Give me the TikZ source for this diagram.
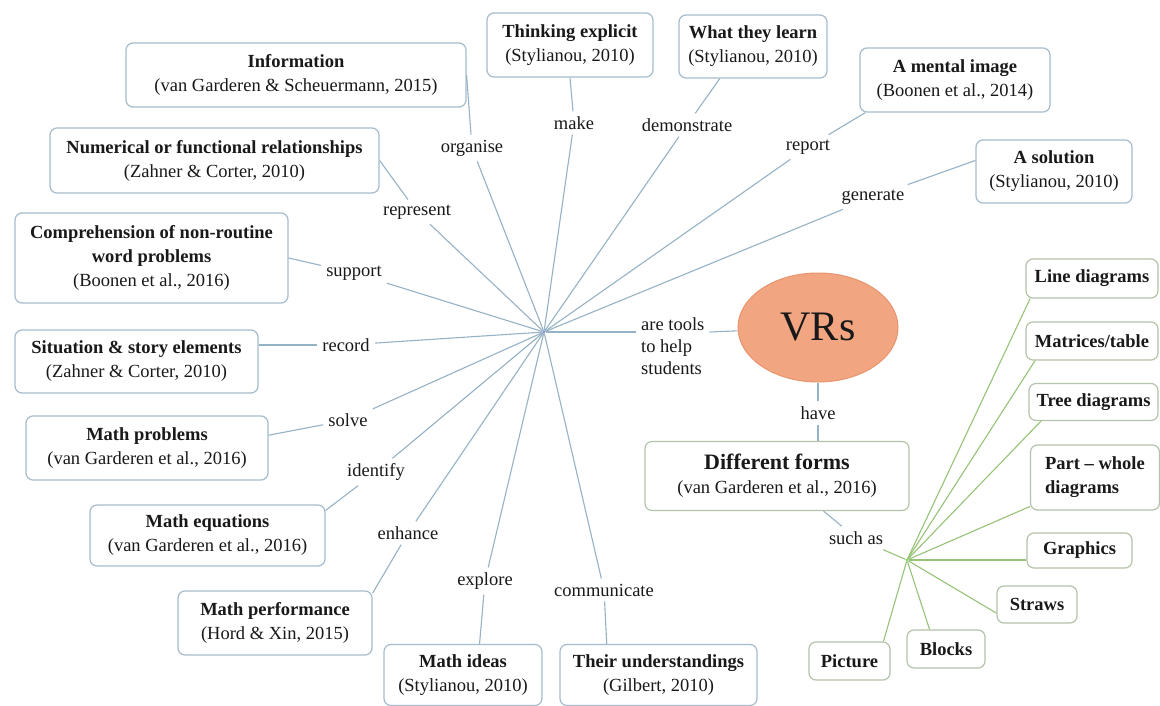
\documentclass[tikz,border=0pt]{standalone}
\usepackage{fontspec}
\setmainfont{Liberation Serif}
\usetikzlibrary{shapes.geometric}
\definecolor{txt}{RGB}{25,25,25}
\definecolor{bline}{RGB}{150,178,198}
\definecolor{bborder}{RGB}{165,188,204}
\definecolor{gline}{RGB}{150,195,120}
\definecolor{gborder}{RGB}{180,195,170}
\definecolor{vrsfill}{RGB}{241,165,128}
\definecolor{vrsdraw}{RGB}{232,148,110}
\begin{document}
\begin{tikzpicture}[x=1pt,y=-1pt,
  every node/.style={text=txt, font=\fontsize{18.5}{24}\selectfont},
  bbox/.style={draw=bborder, line width=1.2pt, rounded corners=7pt, align=center, inner sep=0pt},
  gbox/.style={draw=gborder, line width=1.2pt, rounded corners=7pt, align=center, inner sep=0pt, font=\fontsize{18.5}{24}\selectfont\bfseries},
  lbl/.style={inner sep=5pt},
  bcon/.style={draw=bline, line width=1.1pt},
  gcon/.style={draw=gline, line width=1.1pt},
]
\fill[white] (0,0) rectangle (1160,706);
\useasboundingbox (0,0) rectangle (1160,706);

% ---- hubs
\node[circle, fill=bline!70!blue, inner sep=1pt] (hub) at (544,332) {};
\node[circle, fill=gline!70!green, inner sep=1pt] (gh) at (907,560) {};

% ---- central ellipse
\node[ellipse, draw=vrsdraw, fill=vrsfill, line width=1pt, minimum width=160pt, minimum height=109pt, inner sep=0pt, font=\fontsize{42}{42}\selectfont] (vrs) at (818,327.5) {VRs};

% ---- blue boxes
\node[bbox, minimum width=340pt, minimum height=64pt] (info) at (296,75) {\textbf{Information}\\(van Garderen \& Scheuermann, 2015)};
\node[bbox, minimum width=329pt, minimum height=65pt] (numer) at (214.5,160.5) {\textbf{Numerical or functional relationships}\\(Zahner \& Corter, 2010)};
\node[bbox, minimum width=273pt, minimum height=90pt] (compr) at (151.5,258) {\textbf{Comprehension of non-routine}\\\textbf{word problems}\\(Boonen et al., 2016)};
\node[bbox, minimum width=243pt, minimum height=63pt] (situ) at (136.5,361.5) {\textbf{Situation \& story elements}\\(Zahner \& Corter, 2010)};
\node[bbox, minimum width=242pt, minimum height=64pt] (mprob) at (147,448) {\textbf{Math problems}\\(van Garderen et al., 2016)};
\node[bbox, minimum width=235pt, minimum height=61pt] (meq) at (207.5,535.5) {\textbf{Math equations}\\(van Garderen et al., 2016)};
\node[bbox, minimum width=194pt, minimum height=64pt] (mperf) at (275,623) {\textbf{Math performance}\\(Hord \& Xin, 2015)};
\node[bbox, minimum width=158pt, minimum height=61pt] (mideas) at (463,675) {\textbf{Math ideas}\\(Stylianou, 2010)};
\node[bbox, minimum width=197pt, minimum height=61pt] (theirund) at (658.5,675) {\textbf{Their understandings}\\(Gilbert, 2010)};
\node[bbox, minimum width=166pt, minimum height=64pt] (think) at (570,45) {\textbf{Thinking explicit}\\(Stylianou, 2010)};
\node[bbox, minimum width=148pt, minimum height=63pt] (what) at (753,46.5) {\textbf{What they learn}\\(Stylianou, 2010)};
\node[bbox, minimum width=190pt, minimum height=64pt] (mental) at (955,80) {\textbf{A mental image}\\(Boonen et al., 2014)};
\node[bbox, minimum width=156pt, minimum height=63pt] (solution) at (1054,171.5) {\textbf{A solution}\\(Stylianou, 2010)};

% ---- green boxes
\node[draw=gborder, line width=1.2pt, rounded corners=7pt, align=center, inner sep=0pt, minimum width=264pt, minimum height=69pt] (diff) at (777,476) {{\fontsize{22}{24}\selectfont\bfseries Different forms}\\(van Garderen et al., 2016)};
\node[gbox, minimum width=132pt, minimum height=39pt] (ld) at (1092,278.5) {Line diagrams};
\node[gbox, minimum width=132pt, minimum height=38pt] (mt) at (1092,341) {Matrices/table};
\node[gbox, minimum width=129pt, minimum height=37pt] (td) at (1093.5,402) {Tree diagrams};
\node[gbox, minimum width=129pt, minimum height=65pt, align=left] (pw) at (1095,477.5) {Part -- whole\\diagrams};
\node[gbox, minimum width=105pt, minimum height=35pt] (gr) at (1079.5,550.5) {Graphics};
\node[gbox, minimum width=80pt, minimum height=37pt] (st) at (1037,604.5) {Straws};
\node[gbox, minimum width=78pt, minimum height=38pt] (blk) at (946,649) {Blocks};
\node[gbox, minimum width=81pt, minimum height=38pt] (pic) at (849.5,661) {Picture};

% ---- linking labels
\node[lbl] (org) at (472,148) {organise};
\node[lbl] (make) at (574,123) {make};
\node[lbl] (demo) at (687,125) {demonstrate};
\node[lbl] (rep) at (808,147) {report};
\node[lbl] (gen) at (873,197) {generate};
\node[lbl] (repr) at (417,212) {represent};
\node[lbl] (sup) at (354,273) {support};
\node[lbl] (rec) at (346,345) {record};
\node[lbl] (solve) at (348,420) {solve};
\node[lbl] (ident) at (376,472) {identify};
\node[lbl] (enh) at (408,533) {enhance};
\node[lbl] (expl) at (485,581) {explore};
\node[lbl] (comm) at (604,590) {communicate};
\node[lbl, anchor=west, align=left, font=\fontsize{18.5}{22}\selectfont] (tools) at (636,346) {are tools\\to help\\students};
\node[lbl] (have) at (818,413) {have};
\node[lbl] (such) at (856,538) {such as};

% ---- blue connectors
\draw[bcon] (hub) -- (org);   \draw[bcon] (org) -- (info.east);
\draw[bcon] (hub) -- (make);  \draw[bcon] (make) -- (think.south);
\draw[bcon] (hub) -- (demo);  \draw[bcon] (demo) -- (what.224);
\draw[bcon] (hub) -- (rep);   \draw[bcon] (rep) -- (mental.200);
\draw[bcon] (hub) -- (gen);   \draw[bcon] (gen) -- (solution.172);
\draw[bcon] (hub) -- (repr);  \draw[bcon] (repr) -- (numer.east);
\draw[bcon] (hub) -- (sup);   \draw[bcon] (sup) -- (compr.east);
\draw[bcon] (hub) -- (rec);   \draw[bcon] (rec) -- (rec -| situ.east);
\draw[bcon] (hub) -- (solve); \draw[bcon] (solve) -- (mprob.6);
\draw[bcon] (hub) -- (ident); \draw[bcon] (ident) -- (meq.12);
\draw[bcon] (hub) -- (enh);   \draw[bcon] (enh) -- (mperf.17);
\draw[bcon] (hub) -- (expl);  \draw[bcon] (expl) -- (mideas.62);
\draw[bcon] (hub) -- (comm);  \draw[bcon] (comm) -- (theirund.149);
\draw[bcon] (hub) -- (hub -| tools.west);
\draw[bcon] (tools.east |- hub) -- (vrs);

% ---- VRs to forms
\draw[bcon] (vrs) -- (have);
\draw[bcon] (have) -- (have |- diff.north);
\draw[bcon] (diff.-37) -- (such);
\draw[gcon] (such) -- (gh);

% ---- green connectors
\draw[gcon] (gh) -- (ld.198);
\draw[gcon] (gh) -- (mt.199);
\draw[gcon] (gh) -- (td.200);
\draw[gcon] (gh) -- (pw.204);
\draw[gcon] (gh) -- (gr.west |- gh);
\draw[gcon] (gh) -- (st.192);
\draw[gcon] (gh) -- (blk.130);
\draw[gcon] (gh) -- (pic.30);
\end{tikzpicture}
\end{document}
